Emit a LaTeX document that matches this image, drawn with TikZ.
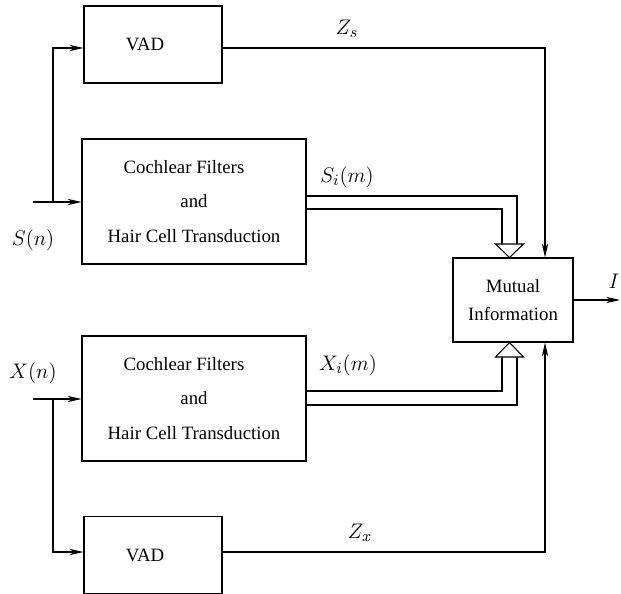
\documentclass[tikz,border=0pt]{standalone}
\usepackage{fontspec}
\setmainfont{Liberation Serif}
\usetikzlibrary{arrows.meta,positioning}

\begin{document}
\begin{tikzpicture}[x=.02cm,y=-.02cm,line width=.6pt,>={Stealth[length=8pt,width=3.6pt]},
  every node/.style={font=\fontsize{10.7}{12}\selectfont},
  blk/.style={draw,inner sep=0pt,align=center},
  vad/.style={blk,minimum width=2.76cm,minimum height=1.54cm},
  cochlea/.style={blk,minimum width=4.48cm,minimum height=2.5cm,font=\fontsize{10.7}{19.6}\selectfont},
  lbl/.style={font=\fontsize{12.5}{14}\selectfont},
  hollow/.style={fill=white}]
\useasboundingbox(0,0) rectangle(621,594);
% blocks
\node[vad](vads) at(153,44.5){\hspace*{-.32cm}VAD};
\node[cochlea](cfs) at(194,201.5){Cochlear Filters\hspace*{.4cm}\\and\hspace*{.6cm}\\Hair Cell Transduction};
\node[cochlea](cfx) at(194,398.5){Cochlear Filters\hspace*{.4cm}\\and\hspace*{.6cm}\\Hair Cell Transduction};
\node[vad](vadx) at(153,555){\hspace*{-.32cm}VAD};
\node[blk,minimum width=2.4cm,minimum height=1.68cm,font=\fontsize{10.7}{16}\selectfont](mi) at(513,300){Mutual\\Information};
% inputs
\coordinate(sin) at(33,202);\coordinate(ss) at(53,202);\coordinate(ts) at(53,48);
\coordinate(xin) at(33,399);\coordinate(xs) at(53,399);
\draw[->](sin)--(cfs.west|-sin);\draw[->](ss)--(ts)--(vads.west|-ts);
\draw[->](xin)--(cfx.west|-xin);
\node[lbl](sn) at(33,240){$S(n)$};\node[lbl](xn) at(33,373){$X(n)$};
% VAD outputs
\coordinate(zc) at(545,48);\coordinate(zx) at(545,552);
\draw[->](xs)--(xs|-zx)--(vadx.west|-zx);
\draw[->](vads.east|-zc)--(zc)--(zc|-mi.north);
\draw[->](vadx.east|-zx)--(zx)--(zx|-mi.south);
\node[lbl](zsl) at(347,29){$Z_s$};\node[lbl](zxl) at(360,533){$Z_x$};
% filter bank outputs
\coordinate(sa) at(509.5,244);\coordinate(so) at(517,196);\coordinate(si) at(502,209);
\draw(cfs.east|-so)--(so)--(so|-sa);\draw(cfs.east|-si)--(si)--(si|-sa);
\draw[hollow](sa)++(-14,0)--++(28,0)--(sa|-mi.north)--cycle;
\coordinate(xa) at(509.5,357);\coordinate(xo) at(517,405);\coordinate(xi) at(502,391);
\draw(cfx.east|-xo)--(xo)--(xo|-xa);\draw(cfx.east|-xi)--(xi)--(xi|-xa);
\draw[hollow](xa)++(-14,0)--++(28,0)--(xa|-mi.south)--cycle;
\node[lbl](sil) at(347,177){$S_i(m)$};\node[lbl](xil) at(348,365){$X_i(m)$};
% output
\coordinate(out) at(620,300);
\draw[->](mi.east)--(out);\node[lbl](il) at(614,281){$I$};
\end{tikzpicture}
\end{document}
